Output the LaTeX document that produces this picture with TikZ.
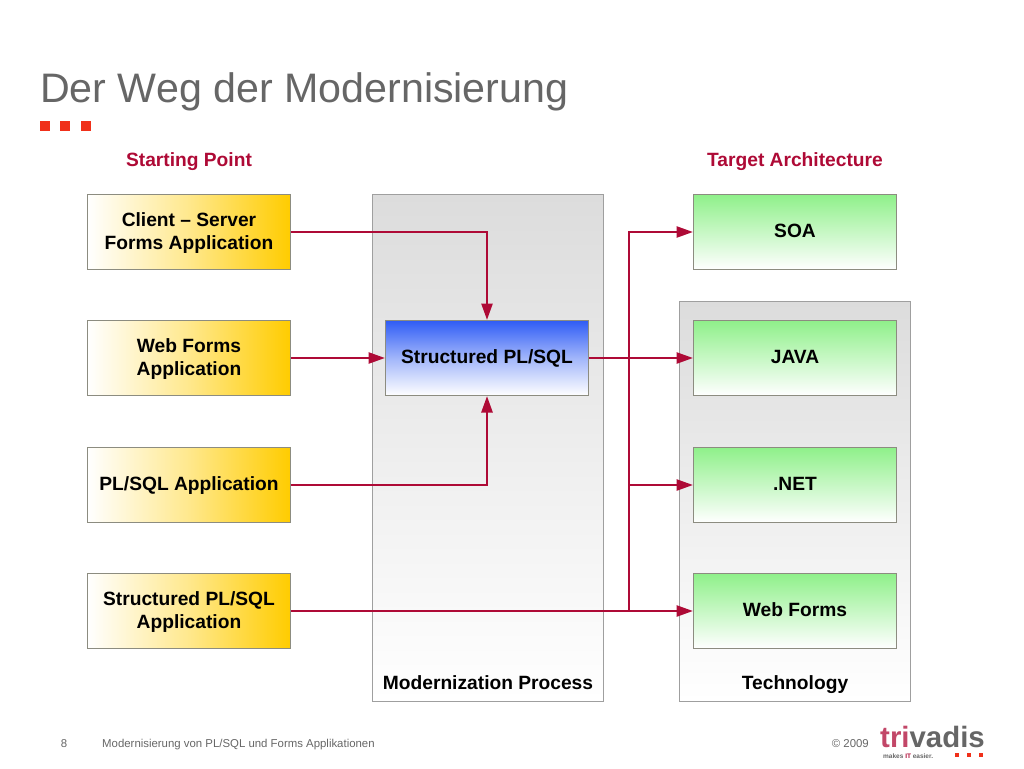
\documentclass[tikz,border=0pt]{standalone}
\usepackage{fontspec}
\setmainfont{Liberation Sans}
\usetikzlibrary{arrows.meta}
\definecolor{crim}{HTML}{AE0A36}
\definecolor{ttl}{HTML}{666666}
\definecolor{brd}{HTML}{8C8C80}
\definecolor{redsq}{HTML}{F0301A}
\definecolor{gold}{HTML}{FFCC00}
\definecolor{grn}{HTML}{8FF08A}
\definecolor{blu}{HTML}{2F5CF5}
\definecolor{pan}{HTML}{DCDCDC}
\newcommand\tst{\vrule width0pt height 17.4pt depth 5.6pt\relax}
\tikzset{
  x=1pt,y=-1pt,
  base/.style={draw=brd,line width=1pt,rectangle,inner sep=0pt,minimum width=203pt,minimum height=75pt,align=center,font=\fontsize{19.2}{23}\selectfont\bfseries},
  srcbox/.style={base,left color=white,right color=gold,middle color=gold!45!white},
  tgtbox/.style={base,top color=grn,bottom color=white},
  procbox/.style={base,top color=blu,bottom color=white,middle color=blu!45!white},
  panel/.style={draw=gray!75,line width=1pt,rectangle,inner sep=0pt,top color=pan,bottom color=white},
  caplabel/.style={font=\fontsize{19.2}{23}\selectfont\bfseries,inner sep=0pt,anchor=base},
  headlabel/.style={font=\fontsize{19.2}{23}\selectfont\bfseries,text=crim,inner sep=0pt,anchor=base},
  flow/.style={draw=crim,line width=2.5pt,-{Triangle[length=16.5pt,width=11pt]}},
  flowp/.style={draw=crim,line width=2.5pt},
  sq/.style={fill=redsq,draw=none,rectangle,inner sep=0pt,minimum size=10pt},
  foot/.style={font=\fontsize{11.4}{13}\selectfont,text=ttl,inner sep=0pt},
}
\begin{document}
\begin{tikzpicture}
\useasboundingbox (0,0) rectangle (1024,768);
\node[anchor=base west,inner sep=0pt,font=\fontsize{41.2}{44}\selectfont,text=ttl] (title) at (40,102) {Der Weg der Modernisierung};
\node[sq] (s1) at (45,126) {};
\node[sq] (s2) at (65,126) {};
\node[sq] (s3) at (86,126) {};
\node[headlabel] (hl) at (189,166.5) {Starting Point};
\node[headlabel] (hr) at (795,166.5) {Target Architecture};
\node[panel,minimum width=231.5pt,minimum height=507pt] (pm) at (487.8,447.5) {};
\node[panel,minimum width=231.5pt,minimum height=400pt] (pt) at (795,501) {};
\node[caplabel] (lm) at (488,689.5) {Modernization Process};
\node[caplabel] (lt) at (795,689.5) {Technology};
\node[srcbox] (a1) at (189,232) {\tst Client – Server\\\tst Forms Application};
\node[srcbox] (a2) at (189,358) {\tst Web Forms\\\tst Application};
\node[srcbox] (a3) at (189,485) {\tst PL/SQL Application};
\node[srcbox] (a4) at (189,611) {\tst Structured PL/SQL\\\tst Application};
\node[procbox] (sp) at (487,358) {\tst Structured PL/SQL};
\node[tgtbox] (t1) at (795,232) {\tst SOA};
\node[tgtbox] (t2) at (795,358) {\tst JAVA};
\node[tgtbox] (t3) at (795,485) {\tst .NET};
\node[tgtbox] (t4) at (795,611) {\tst Web Forms};
\coordinate (br) at (629,611);
\draw[flowp] (br) -- (629,232);
\draw[flow] (a1.east) -| (sp.north);
\draw[flow] (a2.east) -- (sp.west);
\draw[flow] (a3.east) -| (sp.south);
\draw[flow] (a4.east) -- (t4.west);
\draw[flow] (sp.east) -- (t2.west);
\draw[flow] (br) |- (t1.west);
\draw[flow] (br) |- (t3.west);
\node[foot,anchor=base] (fn) at (64,747.5) {8};
\node[foot,anchor=base west] (ft) at (102,747.5) {Modernisierung von PL/SQL und Forms Applikationen};
\node[foot,anchor=base east] (fc) at (869,747.5) {© 2009};
\node[anchor=base west,inner sep=0pt,font=\fontsize{29.4}{32}\selectfont\bfseries] (logo) at (880,747) {\textcolor{crim!75!white}{tri}\textcolor{ttl}{vadis}};
\node[anchor=base west,inner sep=0pt,font=\fontsize{6.5}{8}\selectfont\bfseries,text=ttl] (tag) at (883,758) {makes \textcolor{crim}{IT} easier.};
\node[fill=redsq,inner sep=0pt,minimum size=3.5pt] (d1) at (957,755) {};
\node[fill=redsq,inner sep=0pt,minimum size=3.5pt] (d2) at (969,755) {};
\node[fill=redsq,inner sep=0pt,minimum size=3.5pt] (d3) at (981,755) {};
\end{tikzpicture}
\end{document}
